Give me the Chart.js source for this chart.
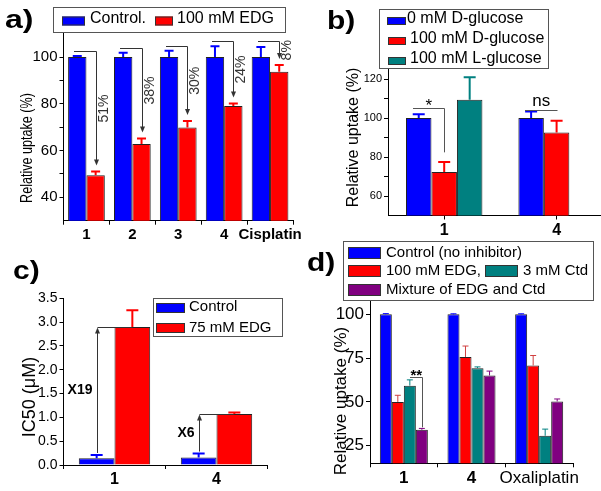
<!DOCTYPE html>
<html>
<head>
<meta charset="utf-8">
<script src="https://cdn.jsdelivr.net/npm/chart.js@4.4.0/dist/chart.umd.min.js"></script>
<style>
  html, body { margin: 0; padding: 0; background: #fff; overflow: hidden; width: 601px; height: 491px; }
  canvas { position: absolute; left: 0; top: 0; }
</style>
</head>
<body>
<canvas id="ca" width="620" height="491"></canvas>
<canvas id="cb" width="620" height="491"></canvas>
<canvas id="cc" width="620" height="491"></canvas>
<canvas id="cd" width="620" height="491"></canvas>
<script>
// ---- panel a: uptake with / without EDG ----
const groupsA = ['1', '2', '3', '4', 'Cisplatin'];
const controlA = [100, 100, 100, 100, 100];
const controlErrA = [0.5, 1.8, 2.7, 4.6, 4.3];
const edgA = [49.4, 62.8, 69.9, 79.1, 93.7];
const edgErrA = [1.7, 2.4, 2.7, 1.0, 2.9];
const dropA = ['51%', '38%', '30%', '24%', '8%'];
const dropLineA = [102.7, 103.7, 104.9, 107, 107];
const yTicksA = [40, 50, 60, 70, 80, 90, 100];
const yLabelsA = [40, 60, 80, 100];

// ---- panel b: D- / L-glucose ----
const groupsB = ['1', '4'];
const dGlu0B = [100, 100];
const dGlu0ErrB = [2.0, 3.4];
const dGlu100B = [72.3, 92.6];
const dGlu100ErrB = [5.1, 6.0];
const lGlu100B = [109.4, null];
const lGlu100ErrB = [11.5, null];
const sigB = ['*', 'ns'];
const sigLineB = [105.4, 104.3];
const sigDropB = [82.4, null];
const yTicksB = [60, 70, 80, 90, 100, 110, 120];
const yLabelsB = [60, 80, 100, 120];

// ---- panel c: IC50 ----
const groupsC = ['1', '4'];
const controlC = [0.14, 0.16];
const controlErrC = [0.07, 0.08];
const edgC = [2.9, 1.07];
const edgErrC = [0.35, 0.03];
const foldC = ['X19', 'X6'];
const yTicksC = [0, 0.5, 1.0, 1.5, 2.0, 2.5, 3.0, 3.5];

// ---- panel d: inhibitors ----
const groupsD = ['1', '4', 'Oxaliplatin'];
const controlD = [100, 100, 100];
const controlErrD = [0.4, 0.3, 0.3];
const edgD = [50, 75.6, 70.8];
const edgErrD = [3.8, 6.3, 5.7];
const ctdD = [59.3, 69.3, 30.7];
const ctdErrD = [3.3, 0.7, 3.8];
const mixD = [34.1, 65.1, 50.3];
const mixErrD = [0.8, 2.5, 1.4];
const sigD = '**';
const sigLineD = 64.1;
const sigDropD = 35.5;
const yTicksD = [25, 50, 75, 100];

const FONT = "'Liberation Sans', Arial, sans-serif";
const BLUE = '#0000ff', RED = '#ff0000', TEAL = '#008080', PURPLE = '#800080';
Chart.defaults.font.family = FONT;
Chart.defaults.color = '#000';

// plot box given in page pixels; yw / xh = width of y axis strip / height of x axis strip
function baseOptions(p) {
  return {
    responsive: false,
    animation: false,
    devicePixelRatio: 1,
    layout: { padding: { left: p.left - p.yw, right: 620 - p.right, top: p.top, bottom: 491 - p.bottom - p.xh } },
    plugins: { legend: { display: false }, tooltip: { enabled: false } },
    datasets: { bar: { categoryPercentage: p.cat, barPercentage: 1, borderWidth: 1, borderColor: '#222' } },
    scales: {
      x: {
        grid: { offset: p.gridOffset, drawOnChartArea: false, color: '#000', tickLength: 4 },
        border: { color: '#000', width: 1 },
        ticks: {
          padding: 1, maxRotation: 0, autoSkip: false,
          font: ctx => ({ size: p.xSize, weight: p.xBold(ctx.index) ? 'bold' : 'normal' })
        },
        afterFit: s => { s.height = p.xh; }
      },
      y: {
        min: p.yMin, max: p.yMax,
        grid: { drawOnChartArea: false, color: '#000', tickLength: 4 },
        border: { color: '#000', width: 1 },
        ticks: { padding: 2, font: { size: p.ySize }, callback: v => p.yLabels.includes(v) ? p.yFmt(v) : '' },
        afterBuildTicks: s => { s.ticks = p.yTicks.map(v => ({ value: v })); },
        afterFit: s => { s.width = p.yw; }
      }
    }
  };
}

function errorBars(lineWidth, cap) {
  return {
    id: 'errorBars',
    afterDatasetsDraw(chart) {
      const ctx = chart.ctx, ys = chart.scales.y;
      chart.data.datasets.forEach((ds, i) => {
        if (!ds.errors) return;
        const meta = chart.getDatasetMeta(i);
        ctx.save();
        ctx.strokeStyle = ds.errorColor || ds.backgroundColor;
        ctx.lineWidth = lineWidth;
        meta.data.forEach((bar, j) => {
          const v = ds.data[j], e = ds.errors[j];
          if (v == null || e == null) return;
          const top = ys.getPixelForValue(v + e);
          ctx.beginPath();
          ctx.moveTo(bar.x, bar.y);
          ctx.lineTo(bar.x, top);
          ctx.moveTo(bar.x - cap / 2, top);
          ctx.lineTo(bar.x + cap / 2, top);
          ctx.stroke();
        });
        ctx.restore();
      });
    }
  };
}

function legendBox(o) {
  return {
    id: 'legendBox',
    afterDraw(chart) {
      const ctx = chart.ctx;
      ctx.save();
      ctx.fillStyle = '#fff';
      ctx.fillRect(o.x, o.y, o.w, o.h);
      ctx.strokeStyle = '#555';
      ctx.lineWidth = 1;
      ctx.strokeRect(o.x + 0.5, o.y + 0.5, o.w, o.h);
      ctx.font = o.size + 'px ' + FONT;
      ctx.textBaseline = 'middle';
      o.items.forEach(it => {
        const ds = chart.data.datasets[it.ds];
        ctx.fillStyle = ds.backgroundColor;
        ctx.fillRect(it.x, it.y - it.h / 2, it.w, it.h);
        ctx.strokeStyle = '#333';
        ctx.strokeRect(it.x + 0.5, it.y - it.h / 2 + 0.5, it.w - 1, it.h - 1);
        ctx.fillStyle = '#000';
        ctx.fillText(ds.label, it.tx, it.ty);
      });
      ctx.restore();
    }
  };
}

function texts(items) {
  return {
    id: 'texts',
    afterDraw(chart) {
      const ctx = chart.ctx;
      items.forEach(t => {
        ctx.save();
        ctx.translate(t.x, t.y);
        if (t.rot) ctx.rotate(t.rot);
        ctx.scale(t.sx || 1, t.sy || 1);
        ctx.font = t.font;
        ctx.fillStyle = '#000';
        ctx.textAlign = t.align || 'center';
        ctx.textBaseline = 'middle';
        ctx.fillText(t.text, 0, 0);
        ctx.restore();
      });
    }
  };
}

function arrowHead(ctx, x, y, dir) {
  // dir 1 points down, -1 points up
  ctx.beginPath();
  ctx.moveTo(x, y);
  ctx.lineTo(x - 2.5, y - 6 * dir);
  ctx.lineTo(x + 2.5, y - 6 * dir);
  ctx.closePath();
  ctx.fill();
}

// ================= a) =================
const arrowsA = {
  id: 'arrowsA',
  afterDatasetsDraw(chart) {
    const ctx = chart.ctx, ys = chart.scales.y;
    const ctl = chart.getDatasetMeta(0).data, edg = chart.getDatasetMeta(1).data;
    ctx.save();
    ctx.strokeStyle = '#333';
    ctx.fillStyle = '#333';
    ctx.lineWidth = 1;
    dropA.forEach((txt, i) => {
      const x0 = Math.round(ctl[i].x) - 3;
      const x1 = Math.round(edg[i].x) + 0.5;
      const yl = Math.round(ys.getPixelForValue(dropLineA[i])) + 0.5;
      const tip = ys.getPixelForValue(edgA[i] + edgErrA[i]) - 6;
      ctx.beginPath();
      ctx.moveTo(x0, yl);
      ctx.lineTo(x1, yl);
      ctx.lineTo(x1, tip - 5);
      ctx.stroke();
      arrowHead(ctx, x1, tip, 1);
      ctx.save();
      ctx.translate(x1 + 8, (yl + tip) / 2);
      ctx.rotate(-Math.PI / 2);
      ctx.font = '14px ' + FONT;
      ctx.textAlign = 'center';
      ctx.textBaseline = 'middle';
      ctx.fillText(txt, 0, 0);
      ctx.restore();
    });
    ctx.restore();
  }
};

new Chart(document.getElementById('ca'), {
  type: 'bar',
  data: {
    labels: groupsA,
    datasets: [
      { label: 'Control.', data: controlA, errors: controlErrA, backgroundColor: BLUE },
      { label: '100 mM EDG', data: edgA, errors: edgErrA, backgroundColor: RED }
    ]
  },
  options: baseOptions({
    left: 63.5, right: 293, top: 33.7, bottom: 220.7, yw: 40, xh: 25, cat: 0.8, gridOffset: true,
    yMin: 30, yMax: 110, yTicks: yTicksA, yLabels: yLabelsA, yFmt: v => String(v),
    ySize: 15, xSize: 15, xBold: () => true
  }),
  plugins: [
    errorBars(2, 9),
    arrowsA,
    legendBox({ x: 53, y: 7, w: 232, h: 25, size: 16, items: [
      { ds: 0, x: 62, y: 21, w: 23, h: 9, tx: 90, ty: 19 },
      { ds: 1, x: 155, y: 21, w: 18, h: 9, tx: 177, ty: 19 }
    ] }),
    texts([
      { text: 'a)', x: 5, y: 21, font: 'bold 32px ' + FONT, align: 'left', sy: 0.8 },
      { text: 'Relative uptake (%)', x: 27, y: 148, rot: -Math.PI / 2, sx: 0.74, font: '17px ' + FONT }
    ])
  ]
});

// ================= b) =================
const marksB = {
  id: 'marksB',
  afterDatasetsDraw(chart) {
    const ctx = chart.ctx, ys = chart.scales.y;
    const m0 = chart.getDatasetMeta(0).data, m1 = chart.getDatasetMeta(1).data;
    ctx.save();
    ctx.strokeStyle = '#555';
    ctx.lineWidth = 1;
    ctx.fillStyle = '#000';
    ctx.textAlign = 'center';
    sigB.forEach((txt, i) => {
      const x0 = Math.round(m0[i].x) - 6, x1 = Math.round(m1[i].x) + 0.5;
      const yl = Math.round(ys.getPixelForValue(sigLineB[i])) + 0.5;
      ctx.beginPath();
      ctx.moveTo(x0, yl);
      ctx.lineTo(x1, yl);
      if (sigDropB[i] != null) ctx.lineTo(x1, ys.getPixelForValue(sigDropB[i]));
      ctx.stroke();
      ctx.font = '17px ' + FONT;
      ctx.textBaseline = 'alphabetic';
      ctx.fillText(txt, (x0 + x1) / 2, yl - (txt === '*' ? -2 : 5));
    });
    ctx.restore();
  }
};

new Chart(document.getElementById('cb'), {
  type: 'bar',
  data: {
    labels: groupsB,
    datasets: [
      { label: '0 mM D-glucose', data: dGlu0B, errors: dGlu0ErrB, backgroundColor: BLUE },
      { label: '100 mM D-glucose', data: dGlu100B, errors: dGlu100ErrB, backgroundColor: RED },
      { label: '100 mM L-glucose', data: lGlu100B, errors: lGlu100ErrB, backgroundColor: TEAL }
    ]
  },
  options: baseOptions({
    left: 388, right: 612.8, top: 69.3, bottom: 215.5, yw: 40, xh: 24, cat: 0.68, gridOffset: false,
    yMin: 50, yMax: 125, yTicks: yTicksB, yLabels: yLabelsB, yFmt: v => String(v),
    ySize: 11, xSize: 16, xBold: () => true
  }),
  plugins: [
    errorBars(2, 12),
    marksB,
    legendBox({ x: 379, y: 9, w: 169, h: 59, size: 16, items: [
      { ds: 0, x: 387, y: 21, w: 19, h: 8, tx: 407, ty: 19 },
      { ds: 1, x: 388, y: 41, w: 18, h: 8, tx: 410, ty: 39 },
      { ds: 2, x: 388, y: 61, w: 18, h: 8, tx: 410, ty: 59 }
    ] }),
    texts([
      { text: 'b)', x: 327, y: 22, font: 'bold 30px ' + FONT, align: 'left', sy: 0.85 },
      { text: 'Relative uptake (%)', x: 354, y: 137.5, rot: -Math.PI / 2, font: '16px ' + FONT }
    ])
  ]
});

// ================= c) =================
const arrowsC = {
  id: 'arrowsC',
  afterDatasetsDraw(chart) {
    const ctx = chart.ctx, ys = chart.scales.y;
    const ctl = chart.getDatasetMeta(0).data, edg = chart.getDatasetMeta(1).data;
    ctx.save();
    ctx.strokeStyle = '#333';
    ctx.fillStyle = '#333';
    ctx.lineWidth = 1;
    foldC.forEach((txt, i) => {
      const x0 = Math.round(ctl[i].x) + 0.5, x1 = edg[i].x;
      const yTop = Math.round(ys.getPixelForValue(edgC[i])) + 0.5;
      const yBot = ys.getPixelForValue(controlC[i] + controlErrC[i]) - 2;
      ctx.beginPath();
      ctx.moveTo(x0, yBot);
      ctx.lineTo(x0, yTop + 5);
      ctx.moveTo(x0, yTop);
      ctx.lineTo(x1, yTop);
      ctx.stroke();
      arrowHead(ctx, x0, yTop, -1);
      ctx.fillStyle = '#000';
      ctx.font = 'bold 14px ' + FONT;
      ctx.textAlign = 'right';
      ctx.textBaseline = 'middle';
      ctx.fillText(txt, x0 - 5, (yTop + yBot) / 2);
      ctx.fillStyle = '#333';
    });
    ctx.restore();
  }
};

new Chart(document.getElementById('cc'), {
  type: 'bar',
  data: {
    labels: groupsC,
    datasets: [
      { label: 'Control', data: controlC, errors: controlErrC, backgroundColor: BLUE },
      { label: '75 mM EDG', data: edgC, errors: edgErrC, backgroundColor: RED }
    ]
  },
  options: baseOptions({
    left: 63.5, right: 267.5, top: 298.3, bottom: 465, yw: 40, xh: 22, cat: 0.7, gridOffset: true,
    yMin: 0, yMax: 3.5, yTicks: yTicksC, yLabels: yTicksC, yFmt: v => v.toFixed(1),
    ySize: 14, xSize: 16, xBold: () => true
  }),
  plugins: [
    errorBars(2, 12),
    arrowsC,
    legendBox({ x: 153, y: 298, w: 129, h: 38, size: 15, items: [
      { ds: 0, x: 156, y: 308, w: 29, h: 10, tx: 189, ty: 307 },
      { ds: 1, x: 156, y: 328, w: 29, h: 10, tx: 189, ty: 328 }
    ] }),
    texts([
      { text: 'c)', x: 13, y: 272, font: 'bold 30px ' + FONT, align: 'left', sy: 0.85 },
      { text: 'IC50 (\u03bcM)', x: 30, y: 397, rot: -Math.PI / 2, font: '18px ' + FONT }
    ])
  ]
});

// ================= d) =================
const marksD = {
  id: 'marksD',
  afterDatasetsDraw(chart) {
    const ctx = chart.ctx, ys = chart.scales.y;
    const x0 = Math.round(chart.getDatasetMeta(2).data[0].x);
    const x1 = Math.round(chart.getDatasetMeta(3).data[0].x) + 0.5;
    const yl = Math.round(ys.getPixelForValue(sigLineD)) + 0.5;
    ctx.save();
    ctx.strokeStyle = '#555';
    ctx.lineWidth = 1;
    ctx.beginPath();
    ctx.moveTo(x0, yl);
    ctx.lineTo(x1, yl);
    ctx.lineTo(x1, ys.getPixelForValue(sigDropD));
    ctx.stroke();
    ctx.fillStyle = '#000';
    ctx.font = 'bold 15px ' + FONT;
    ctx.textAlign = 'center';
    ctx.textBaseline = 'alphabetic';
    ctx.fillText(sigD, (x0 + x1) / 2, yl + 2);
    ctx.restore();
  }
};

new Chart(document.getElementById('cd'), {
  type: 'bar',
  data: {
    labels: groupsD,
    datasets: [
      { label: 'Control (no inhibitor)', data: controlD, errors: controlErrD, backgroundColor: BLUE },
      { label: '100 mM EDG,', data: edgD, errors: edgErrD, backgroundColor: RED, errorColor: '#d04040' },
      { label: '3 mM Ctd', data: ctdD, errors: ctdErrD, backgroundColor: TEAL },
      { label: 'Mixture of EDG and Ctd', data: mixD, errors: mixErrD, backgroundColor: PURPLE }
    ]
  },
  options: baseOptions({
    left: 370, right: 573, top: 300.3, bottom: 463.3, yw: 40, xh: 24, cat: 0.71, gridOffset: true,
    yMin: 15, yMax: 108, yTicks: yTicksD, yLabels: yTicksD, yFmt: v => String(v),
    ySize: 17, xSize: 17, xBold: i => i < 2
  }),
  plugins: [
    errorBars(1, 6),
    marksD,
    legendBox({ x: 343, y: 241, w: 250, h: 59, size: 15, items: [
      { ds: 0, x: 348, y: 253, w: 33, h: 12, tx: 386, ty: 253 },
      { ds: 1, x: 348, y: 271, w: 33, h: 12, tx: 386, ty: 271 },
      { ds: 2, x: 485, y: 271, w: 33, h: 12, tx: 523, ty: 271 },
      { ds: 3, x: 348, y: 290, w: 33, h: 12, tx: 386, ty: 290 }
    ] }),
    texts([
      { text: 'd)', x: 307, y: 264, font: 'bold 30px ' + FONT, align: 'left', sy: 0.85 },
      { text: 'Relative uptake (%)', x: 341, y: 401, rot: -Math.PI / 2, font: '17px ' + FONT }
    ])
  ]
});
</script>
</body>
</html>
